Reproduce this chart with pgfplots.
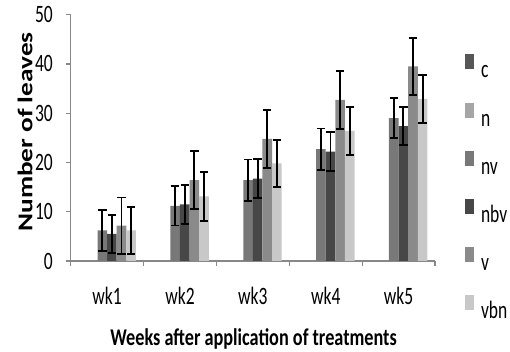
\documentclass[border=0pt]{standalone}
\usepackage{fontspec}
\setmainfont{Carlito}
\newfontfamily\tickfont[FakeStretch=0.7]{Carlito}
\newfontfamily\xlabfont[FakeStretch=0.76]{Carlito}
\newfontfamily\ylabfont[FakeStretch=1.3]{Carlito}
\usepackage{pgfplots}
\usepackage{pgfplotstable}
\pgfplotsset{compat=1.18}
\definecolor{cc}{HTML}{575757}
\definecolor{nc}{HTML}{A6A6A6}
\definecolor{nvc}{HTML}{787878}
\definecolor{nbvc}{HTML}{474747}
\definecolor{vc}{HTML}{8A8A8A}
\definecolor{vbnc}{HTML}{C8C8C8}
\definecolor{axc}{HTML}{888888}
% x positions: category index plus the bar offset (one bar = 0.1318 category)
\pgfplotstableread{
xnv xnbv xv xvbn nv nve nbv nbve v ve vbn vbne
-0.0659 0.0659 0.1976 0.3294 6.2 4.1 5.5 3.9 7.2 5.7 6.2 4.8
0.9341 1.0659 1.1976 1.3294 11.2 4.0 11.5 4.0 16.4 5.9 13.1 4.9
1.9341 2.0659 2.1976 2.3294 16.4 4.2 16.7 4.0 24.8 5.9 19.8 4.8
2.9341 3.0659 3.1976 3.3294 22.7 4.2 22.2 3.9 32.7 5.9 26.4 4.9
3.9341 4.0659 4.1976 4.3294 29.0 4.1 27.4 3.9 39.5 5.8 32.9 4.8
}\data
\begin{document}
\begin{tikzpicture}
\path[use as bounding box] (0,0) rectangle (510pt,352pt);
\begin{axis}[
  at={(70.7pt,91pt)}, anchor=south west,
  scale only axis, width=364.3pt, height=246.3pt,
  xmin=-0.5, xmax=4.5, ymin=0, ymax=50,
  axis x line*=bottom, axis y line*=left,
  axis line style={draw=axc, line width=1.3pt},
  tick align=outside,
  major tick length=5pt,
  tick style={draw=axc, line width=1.2pt},
  ytick={0,10,...,50},
  xtick={-0.5,0.5,1.5,2.5,3.5,4.5},
  xticklabels={},
  extra x ticks={0,1,2,3,4},
  extra x tick labels={wk1,wk2,wk3,wk4,wk5},
  extra x tick style={major tick length=0pt},
  /pgf/number format/assume math mode=true,
  yticklabel style={font=\tickfont\fontsize{25}{25}\selectfont, anchor=east, inner sep=0pt, xshift=-12.7pt},
  xticklabel style={font=\tickfont\fontsize{25}{25}\selectfont, anchor=base, inner sep=0pt, yshift=-44pt},
  xlabel={Weeks after application of treatments},
  xlabel style={font=\xlabfont\bfseries\fontsize{24}{24}\selectfont, at={(axis description cs:0.502,-0.316)}, anchor=center, inner sep=0pt},
  ylabel={Number of leaves},
  ylabel style={font=\ylabfont\bfseries\fontsize{21}{21}\selectfont, at={(axis description cs:-0.125,0.524)}, anchor=center, inner sep=0pt},
  legend cell align=left,
  legend style={draw=none, fill=none, inner sep=0pt, outer sep=0pt,
    at={(axis description cs:1.0824,0.3025)}, anchor=west,
    font=\tickfont\fontsize{25}{25}\selectfont,
    nodes={inner sep=0pt, text height=17pt, text depth=0pt},
    row sep=24.6pt, column sep=7pt},
  legend image code/.code={\fill[#1] (0pt,0pt) rectangle (9pt,15pt);},
  error bars/error bar style={black, line width=1.9pt},
  error bars/error mark=|,
  error bars/error mark options={black, line width=1.9pt, mark size=4.2pt},
]
\addlegendimage{fill=cc, draw=none}
\addlegendentry{c}
\addlegendimage{fill=nc, draw=none}
\addlegendentry{n}
\addplot[ybar, bar width=9.6pt, fill=nvc, draw=none,
  error bars/.cd, y dir=both, y explicit]
  table[x=xnv, y=nv, y error=nve]{\data};
\addlegendentry{nv}
\addplot[ybar, bar width=9.6pt, fill=nbvc, draw=none,
  error bars/.cd, y dir=both, y explicit]
  table[x=xnbv, y=nbv, y error=nbve]{\data};
\addlegendentry{nbv}
\addplot[ybar, bar width=9.6pt, fill=vc, draw=none,
  error bars/.cd, y dir=both, y explicit]
  table[x=xv, y=v, y error=ve]{\data};
\addlegendentry{v}
\addplot[ybar, bar width=9.6pt, fill=vbnc, draw=none,
  error bars/.cd, y dir=both, y explicit]
  table[x=xvbn, y=vbn, y error=vbne]{\data};
\addlegendentry{vbn}
\end{axis}
\end{tikzpicture}
\end{document}
